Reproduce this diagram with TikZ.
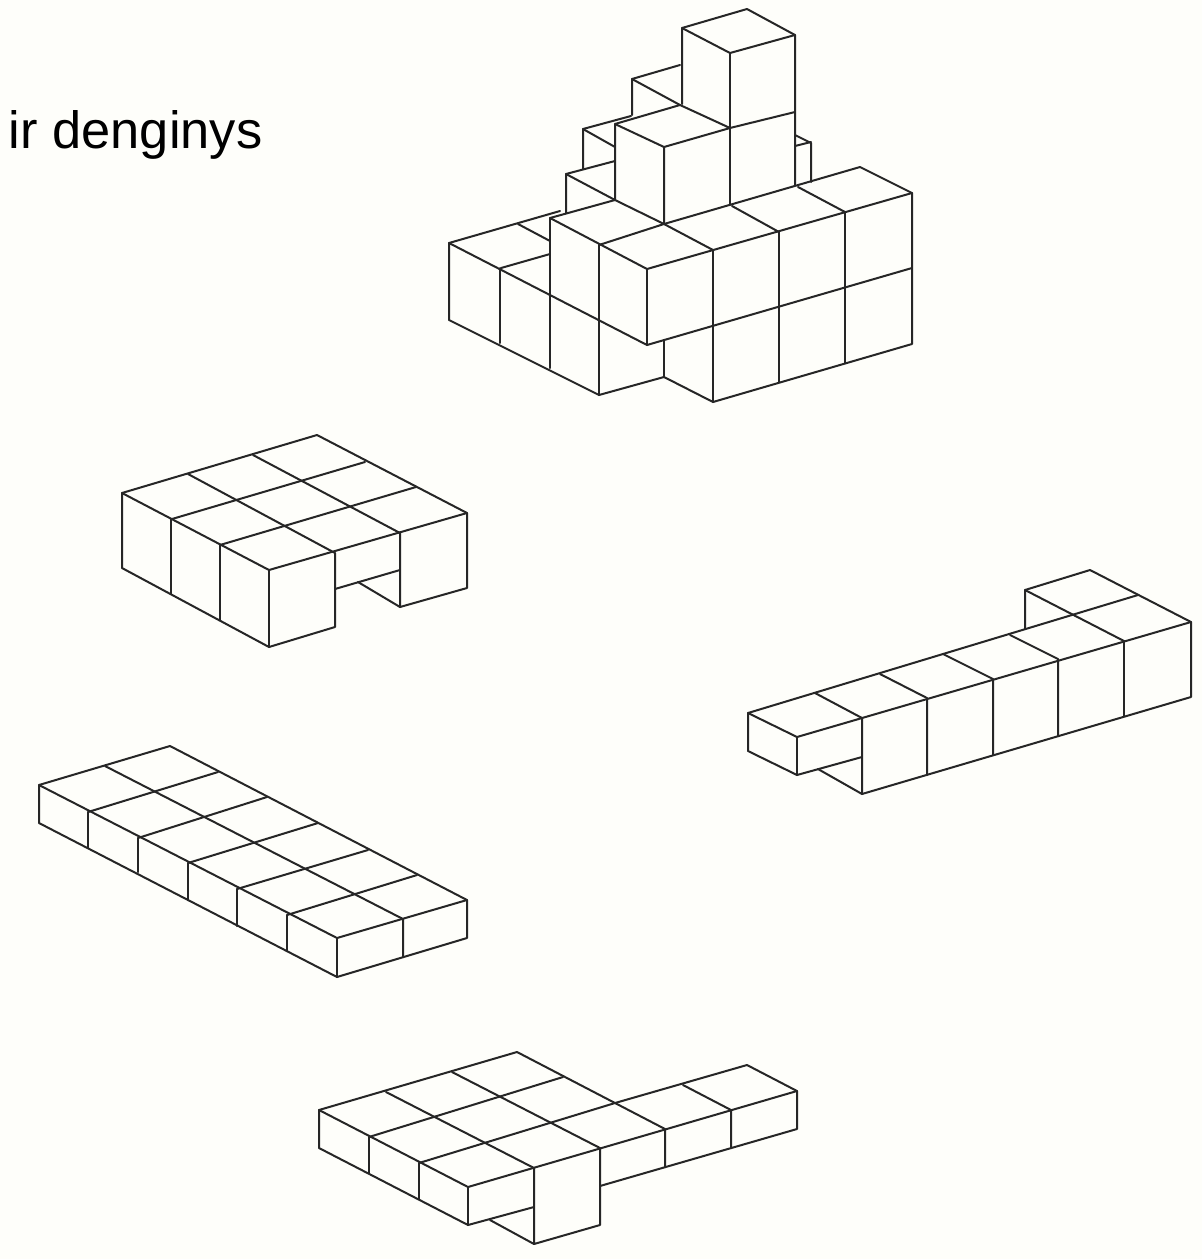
\documentclass[tikz,border=0pt]{standalone}
\usepackage{fontspec}
\setmainfont{Liberation Sans}
\definecolor{paper}{HTML}{FEFEFA}
\definecolor{ink}{HTML}{262626}

\begin{document}
\begin{tikzpicture}[x=0.5pt, y=-0.5pt, line width=1pt, line join=round, line cap=round, draw=ink]

\fill[paper] (0,0) rectangle (1202,1259);
\useasboundingbox (0,0) rectangle (1202,1259);

\node[anchor=base west, inner sep=0pt, font=\fontsize{26.2}{30}\selectfont, text=black] (title) at (8,148) {ir denginys};

% tower of cubes
\begin{scope}
  \draw (682,104) -- (682,28) -- (747,9) -- (795,35) -- (795,185);
  \draw (682,28) -- (730,53) -- (795,35);
  \draw (730,53) -- (730,205);
  \draw (730,128) -- (795,112);

  \draw (680,65) -- (632,79) -- (632,115);
  \draw (632,79) -- (680,105);

  \draw (615,200) -- (615,124) -- (680,105) -- (730,128) -- (664,147) -- (664,224);
  \draw (615,124) -- (664,147);

  \draw (631,116) -- (583,129) -- (583,169);
  \draw (583,129) -- (615,147);

  \draw (615,161) -- (566,174) -- (566,213);
  \draw (566,174) -- (615,200);

  \draw (795,135) -- (811,143) -- (811,182);
  \draw (795,146) -- (811,142);

  % lower block
  \draw (449,243) -- (560,211);
  \draw (550,218) -- (615,200);
  \draw (664,224) -- (860,167) -- (912,193) -- (912,344) -- (713,402) -- (664,377) -- (599,395) -- (449,320) -- (449,243);
  \draw (449,243) -- (647,345) -- (912,268);
  \draw (518,224) -- (550,241);
  \draw (501,268) -- (550,254);
  \draw (550,218) -- (647,269) -- (912,193);
  \draw (599,245) -- (664,224) -- (713,250);
  \draw (732,206) -- (779,232);
  \draw (798,187) -- (845,212);
  \draw (615,200) -- (664,224);
  \draw (500,268) -- (500,343);
  \draw (550,218) -- (550,368);
  \draw (599,245) -- (599,395);
  \draw (647,269) -- (647,345);
  \draw (664,340) -- (664,377);
  \draw (713,250) -- (713,402);
  \draw (779,232) -- (779,382);
  \draw (845,212) -- (845,363);
\end{scope}

% block with the notch
\begin{scope}
  \draw (122,493) -- (317,435) -- (467,513) -- (467,588) -- (400,607) -- (358,582);
  \draw (122,493) -- (269,570) -- (467,513);
  \draw (122,493) -- (122,568) -- (269,647) -- (335,627) -- (335,553);
  \draw (188,474) -- (335,553);
  \draw (253,455) -- (400,533) -- (400,607);
  \draw (172,519) -- (365,462);
  \draw (220,545) -- (416,487);
  \draw (171,519) -- (171,594);
  \draw (220,545) -- (220,620);
  \draw (269,570) -- (269,647);
  \draw (335,589) -- (400,570);
\end{scope}

% long bar
\begin{scope}
  \draw (748,713) -- (1138,595);
  \draw (1025,629) -- (1025,590) -- (1090,570) -- (1191,622) -- (1191,697) -- (862,794) -- (818,769);
  \draw (1025,590) -- (1124,641);
  \draw (748,713) -- (797,737) -- (1191,622);
  \draw (748,713) -- (748,751) -- (797,775) -- (862,757);
  \draw (797,737) -- (797,775);
  \draw (815,693) -- (862,718) -- (862,794);
  \draw (880,674) -- (927,698) -- (927,775);
  \draw (943,654) -- (993,679) -- (993,755);
  \draw (1010,635) -- (1058,659) -- (1058,736);
  \draw (1124,641) -- (1124,716);
\end{scope}

% flat plate
\begin{scope}
  \draw (39,785) -- (170,746) -- (467,900) -- (467,938) -- (337,977) -- (39,823) -- cycle;
  \draw (39,785) -- (337,938) -- (467,900);
  \draw (337,938) -- (337,977);
  \draw (105,766) -- (403,919) -- (403,957);
  \draw (88,812) -- (218,772);
  \draw (138,838) -- (267,797);
  \draw (188,863) -- (318,823);
  \draw (237,889) -- (368,850);
  \draw (287,915) -- (417,875);
  \draw (88,812) -- (88,848);
  \draw (138,838) -- (138,872);
  \draw (188,863) -- (188,900);
  \draw (237,889) -- (237,926);
  \draw (287,915) -- (287,951);
\end{scope}

% plate with the arm
\begin{scope}
  \draw (319,1110) -- (517,1052) -- (615,1103) -- (747,1065) -- (797,1091) -- (797,1129) -- (600,1186);
  \draw (319,1110) -- (468,1187) -- (797,1091);
  \draw (319,1110) -- (319,1148) -- (468,1225) -- (534,1207);
  \draw (468,1187) -- (468,1225);
  \draw (369,1137) -- (369,1173);
  \draw (419,1163) -- (419,1199);
  \draw (386,1092) -- (534,1168) -- (534,1244) -- (600,1225) -- (600,1148);
  \draw (490,1220) -- (534,1244);
  \draw (452,1072) -- (600,1148);
  \draw (369,1137) -- (563,1077);
  \draw (419,1163) -- (615,1103) -- (665,1129) -- (665,1167);
  \draw (683,1085) -- (731,1110) -- (731,1148);
\end{scope}

\end{tikzpicture}
\end{document}
